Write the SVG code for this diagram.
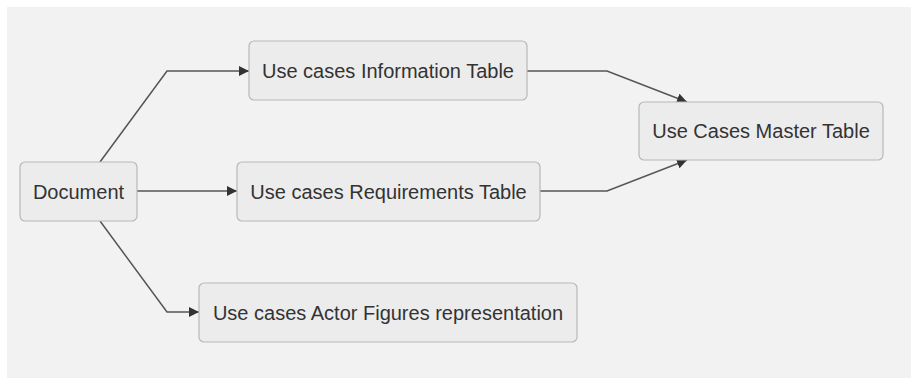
<svg xmlns="http://www.w3.org/2000/svg" width="918" height="383" viewBox="0 0 918 383">
<style>
.node rect{fill:#ececec;stroke:#b8b8b8;stroke-width:1.2}
.node text{font-family:"Liberation Sans",Arial,sans-serif;font-size:20px;fill:#333;text-anchor:middle;dominant-baseline:central}
.edges path{fill:none;stroke:#555;stroke-width:1.5}
</style>
<defs>
<marker id="arr" viewBox="0 0 10 10" refX="10" refY="5" markerWidth="10" markerHeight="10" markerUnits="userSpaceOnUse" orient="auto">
<path d="M0,0 L10,5 L0,10 z" fill="#333"/>
</marker>
</defs>
<rect x="0" y="0" width="918" height="383" fill="#ffffff"/>
<rect x="7" y="7" width="904" height="371" fill="#f2f2f2"/>
<g class="edges">
<path d="M100,162 L167,71 L249,71" marker-end="url(#arr)"/>
<path d="M137,191 L237,191" marker-end="url(#arr)"/>
<path d="M100,221 L167,312 L199,312" marker-end="url(#arr)"/>
<path d="M527,71 L607,71 L687,102" marker-end="url(#arr)"/>
<path d="M540,191 L607,191 L687,160" marker-end="url(#arr)"/>
</g>
<g id="document" class="node"><rect x="20" y="162" width="117" height="59" rx="5"/><text x="78.5" y="191.5">Document</text></g>
<g id="info" class="node"><rect x="249" y="41" width="278" height="59" rx="5"/><text x="388" y="70.5">Use cases Information Table</text></g>
<g id="req" class="node"><rect x="237" y="162" width="303" height="59" rx="5"/><text x="388.5" y="191.5">Use cases Requirements Table</text></g>
<g id="master" class="node"><rect x="639" y="102" width="244" height="58" rx="5"/><text x="761" y="131">Use Cases Master Table</text></g>
<g id="actor" class="node"><rect x="199" y="283" width="378" height="59" rx="5"/><text x="388" y="312.5">Use cases Actor Figures representation</text></g>
</svg>
